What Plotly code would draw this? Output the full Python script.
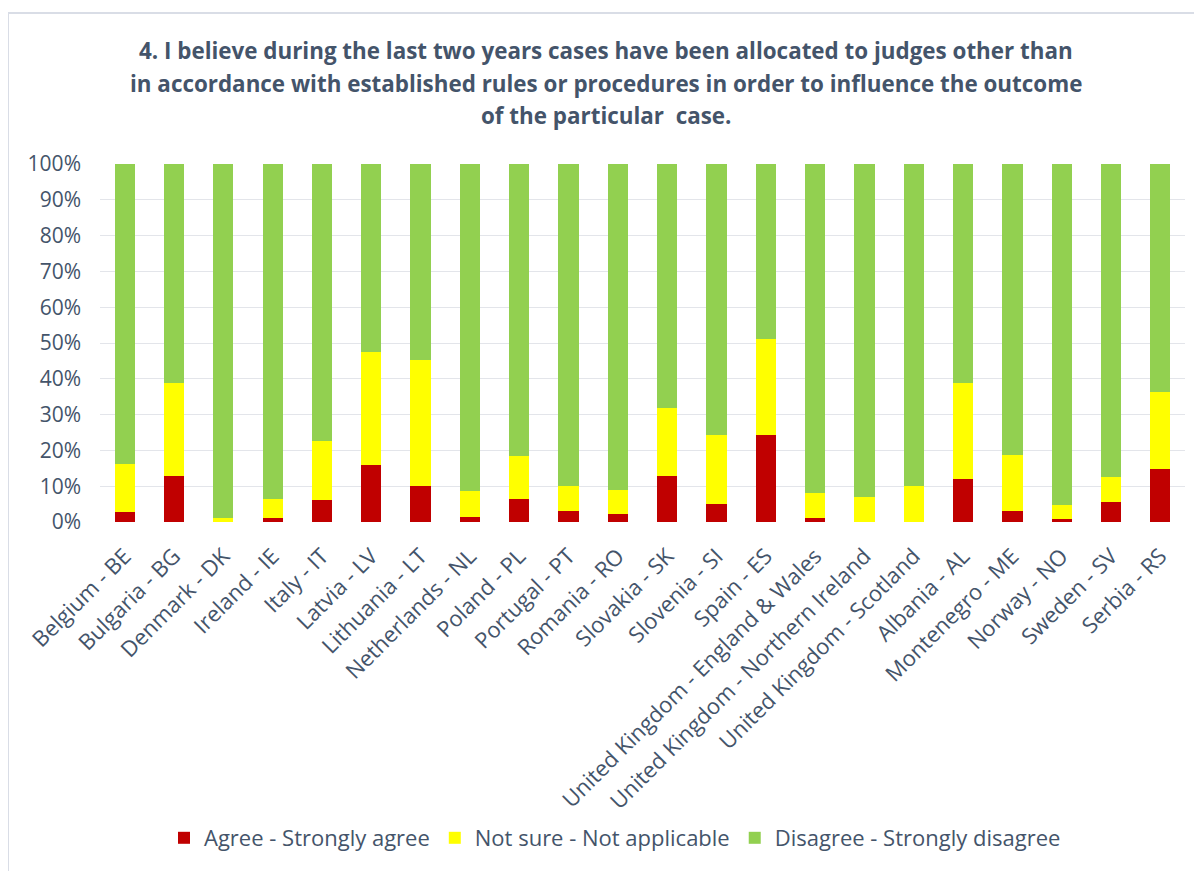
import plotly.graph_objects as go

categories = [
    "Belgium - BE", "Bulgaria - BG", "Denmark - DK", "Ireland - IE", "Italy - IT",
    "Latvia - LV", "Lithuania - LT", "Netherlands - NL", "Poland - PL", "Portugal - PT",
    "Romania - RO", "Slovakia - SK", "Slovenia - SI", "Spain - ES",
    "United Kingdom - England & Wales", "United Kingdom - Northern Ireland",
    "United Kingdom - Scotland", "Albania - AL", "Montenegro - ME", "Norway - NO",
    "Sweden - SV", "Serbia - RS",
]

agree = [2.9, 12.9, 0.0, 1.1, 6.1, 15.9, 10.1, 1.5, 6.5, 3.0, 2.2, 12.9, 5.1, 24.4,
         1.2, 0.0, 0.0, 11.9, 3.0, 0.8, 5.5, 14.8]
not_sure = [13.3, 25.8, 1.1, 5.4, 16.5, 31.5, 35.1, 7.2, 11.8, 7.1, 6.8, 19.0, 19.3, 26.8,
            6.8, 6.9, 10.1, 26.8, 15.7, 3.9, 7.1, 21.4]
disagree = [83.8, 61.3, 98.9, 93.5, 77.4, 52.6, 54.8, 91.3, 81.7, 89.9, 91.0, 68.1, 75.6, 48.8,
            92.0, 93.1, 89.9, 61.3, 81.3, 95.3, 87.4, 63.8]

series_names = ["Agree - Strongly agree", "Not sure - Not applicable", "Disagree - Strongly disagree"]
series_colors = ["#C00000", "#FFFF00", "#92D050"]

title_lines = [
    "4. I believe during the last two years cases have been allocated to judges other than",
    "in accordance with established rules or procedures in order to influence the outcome",
    "of the particular  case.",
]

y_tick_vals = [0, 10, 20, 30, 40, 50, 60, 70, 80, 90, 100]
y_tick_text = ["0%", "10%", "20%", "30%", "40%", "50%", "60%", "70%", "80%", "90%", "100%"]

TEXT = "#44546A"
FONT = "Open Sans"

fig = go.Figure()
for name, vals, col in zip(series_names, [agree, not_sure, disagree], series_colors):
    fig.add_trace(go.Bar(
        x=categories, y=vals, name=name,
        marker=dict(color=col, line=dict(width=0)),
    ))

# page body has an 8px margin; work in screenshot pixels and convert
OFF = 8
W, H = 1202, 871
plot_left, plot_right, plot_top, plot_bottom = 100, 1185, 164, 522
L = plot_left - OFF
T = plot_top - OFF
R = W - (plot_right - OFF)
B = H - (plot_bottom - OFF)
pw, ph = plot_right - plot_left, plot_bottom - plot_top

def px_x(x):
    return (x - plot_left) / pw

def px_y(y):
    return (plot_bottom - y) / ph

annotations = []
for line, ypix in zip(title_lines, [50, 83, 116]):
    annotations.append(dict(
        text="<b>" + line + "</b>", x=px_x(606), y=px_y(ypix), xref="paper", yref="paper",
        xanchor="center", yanchor="middle", showarrow=False,
        font=dict(family=FONT, size=22.4, color=TEXT),
    ))

shapes = [
    dict(type="line", xref="paper", yref="paper", x0=px_x(8), x1=px_x(8), y0=px_y(13), y1=px_y(H + 20),
         line=dict(color="#D9DDE6", width=2)),
    dict(type="line", xref="paper", yref="paper", x0=px_x(8), x1=px_x(W + 20), y0=px_y(13), y1=px_y(13),
         line=dict(color="#D9DDE6", width=2)),
]

fig.update_layout(
    width=W, height=H,
    margin=dict(l=L, r=R, t=T, b=B, autoexpand=False),
    barmode="stack",
    bargap=0.59,
    paper_bgcolor="white",
    plot_bgcolor="white",
    font=dict(family=FONT, color=TEXT, size=21),
    showlegend=True,
    legend=dict(
        orientation="h", x=px_x(615), xanchor="center", y=px_y(838), yanchor="middle",
        font=dict(family=FONT, size=22, color=TEXT),
        itemwidth=30, traceorder="normal",
    ),
    annotations=annotations,
    shapes=shapes,
    xaxis=dict(
        tickangle=-45, tickfont=dict(family=FONT, size=22, color=TEXT),
        showgrid=False, showline=False, ticks="", zeroline=False,
        ticklabelstandoff=16,
    ),
    yaxis=dict(
        range=[0, 100], tickmode="array", tickvals=y_tick_vals, ticktext=y_tick_text,
        tickfont=dict(family=FONT, size=21, color=TEXT),
        showgrid=True, gridcolor="#E3E5EA", gridwidth=1, zeroline=False,
        showline=False, ticks="", ticklabelstandoff=18,
    ),
)

fig.write_html("out.html")
